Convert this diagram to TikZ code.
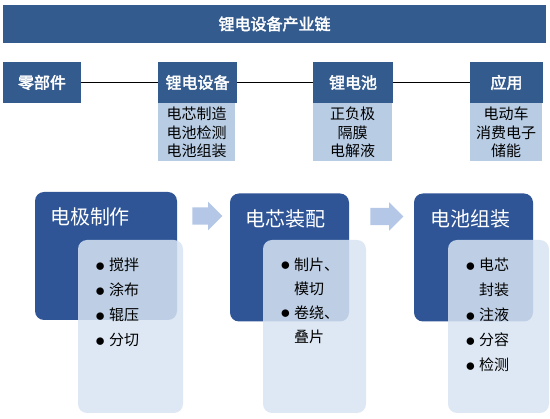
\documentclass[tikz,border=0pt]{standalone}
\usepackage{fontspec}
\newfontfamily\cjk[AutoFakeBold=2.5]{Noto Sans CJK SC}
\usetikzlibrary{positioning,shapes.arrows}

\definecolor{barblue}{HTML}{345B8E}
\definecolor{stageblue}{HTML}{2F5597}
\definecolor{subblue}{HTML}{B8CCE4}
\definecolor{paleblue}{HTML}{D8E4F2}
\definecolor{arrowblue}{HTML}{B4C7E7}

\tikzset{
  titlebar/.style={fill=barblue, text=white, font=\cjk\bfseries\fontsize{16}{18}\selectfont, minimum width=543pt, minimum height=38pt, inner sep=0pt},
  chainbox/.style={fill=barblue, text=white, font=\cjk\bfseries\fontsize{16}{18}\selectfont, minimum height=41pt, inner sep=0pt},
  subbox/.style={fill=subblue, font=\cjk\fontsize{15}{18.5}\selectfont, align=center, minimum height=58pt, inner sep=0pt},
  stagebox/.style={fill=stageblue, rounded corners=9pt, minimum height=128pt, inner sep=0pt},
  stagetitle/.style={text=white, font=\cjk\fontsize{20}{22}\selectfont, anchor=north west, inner sep=0pt},
  listbox/.style={fill=paleblue, fill opacity=0.85, rounded corners=9pt, minimum height=173pt, inner sep=0pt},
  listtext/.style={font=\cjk\fontsize{15}{25}\selectfont, anchor=north west, align=left, inner sep=0pt},
  flowarrow/.style={single arrow, fill=arrowblue, inner xsep=0pt, inner ysep=8.5pt, single arrow head extend=5.5pt, single arrow head indent=0pt}
}
\newcommand{\itm}{\makebox[15pt][l]{\hspace{1.5pt}\raisebox{-0.4pt}{\scalebox{1.35}{$\bullet$}}}}
\newcommand{\ind}{\hspace*{15pt}}

\begin{document}
\begin{tikzpicture}[x=1pt, y=-1pt]
\useasboundingbox (0,0) rectangle (550,419);

% header
\node[titlebar] (title) at (274.5,24) {锂电设备产业链};

% chain
\node[chainbox, minimum width=78pt] (parts) at (42,82.5) {零部件};
\node[chainbox, minimum width=79pt] (equip) at (197.5,82.5) {锂电设备};
\node[chainbox, minimum width=80pt] (cell) at (353,82.5) {锂电池};
\node[chainbox, minimum width=73pt] (app) at (506.5,82.5) {应用};
\node[subbox, minimum width=77pt, below=0pt of equip.south west, anchor=north west] (equipsub) {电芯制造\\电池检测\\电池组装};
\node[subbox, minimum width=79pt, below=0pt of cell.south west, anchor=north west] (cellsub) {正负极\\隔膜\\电解液};
\node[subbox, minimum width=72pt, below=0pt of app.south west, anchor=north west] (appsub) {电动车\\消费电子\\储能};
\draw[line width=1.6pt] (parts) -- (equip);
\draw[line width=1.6pt] (equip) -- (cell);
\draw[line width=1.6pt] (cell) -- (app);

% process
\node[stagebox, minimum width=142pt] (s1) at (106,256) {};
\node[stagebox, minimum width=119pt] (s2) at (289.5,257.5) {};
\node[stagebox, minimum width=119pt] (s3) at (473.5,257.5) {};
\node[stagetitle] (s1t) at ([xshift=15pt,yshift=-16pt]s1.north west) {电极制作};
\node[stagetitle] (s2t) at ([xshift=15pt,yshift=-16pt]s2.north west) {电芯装配};
\node[stagetitle] (s3t) at ([xshift=16pt,yshift=-16pt]s3.north west) {电池组装};
\node[listbox, minimum width=105pt] (l1) at (130.5,326.5) {};
\node[listbox, minimum width=103pt] (l2) at (314.5,326.5) {};
\node[listbox, minimum width=101pt] (l3) at (498.5,326.5) {};
\node[listtext] (l1t) at ([xshift=16pt,yshift=-18pt]l1.north west) {\itm 搅拌\\\itm 涂布\\\itm 辊压\\\itm 分切};
\node[listtext, font=\cjk\fontsize{15}{24}\selectfont] (l2t) at ([xshift=16pt,yshift=-18pt]l2.north west) {\itm 制片、\\\ind 模切\\\itm 卷绕、\\\ind 叠片};
\node[listtext, font=\cjk\fontsize{15}{25}\selectfont] (l3t) at ([xshift=16pt,yshift=-18pt]l3.north west) {\itm 电芯\\\ind 封装\\\itm 注液\\\itm 分容\\\itm 检测};
\node[flowarrow, minimum height=30pt] (a1) at (203,216) {};
\node[flowarrow, minimum height=33pt] (a2) at (382.5,216.5) {};
\end{tikzpicture}
\end{document}
